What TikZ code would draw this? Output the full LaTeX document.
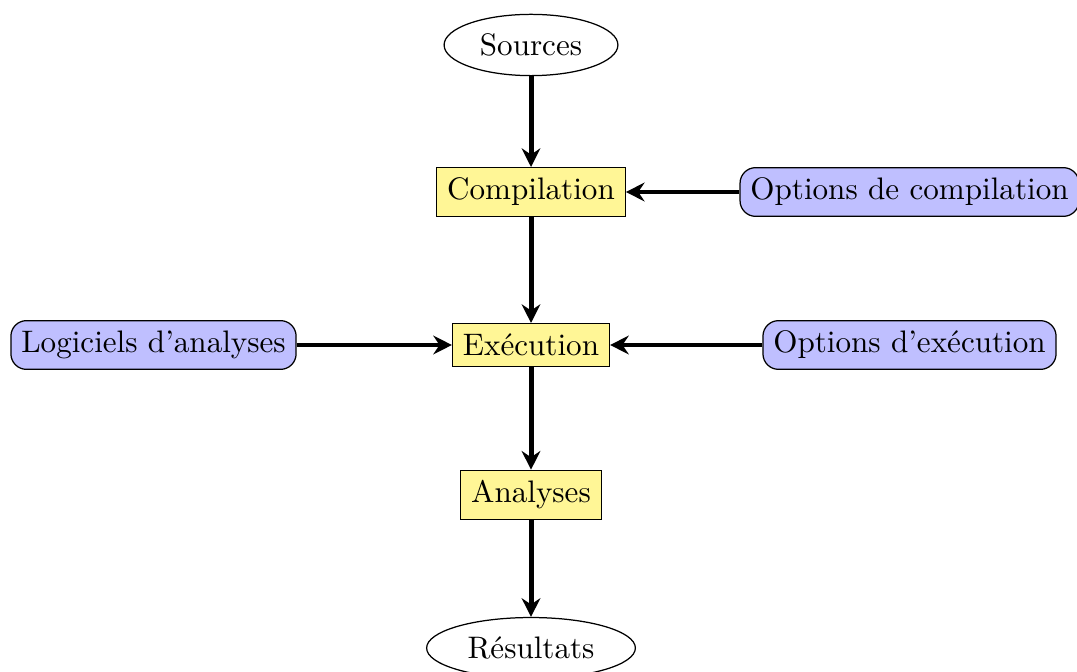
\documentclass[tikz,border=0pt]{standalone}
\usetikzlibrary{shapes.geometric,arrows.meta}
\definecolor{procfill}{RGB}{255,246,150}
\definecolor{optfill}{RGB}{191,191,255}
\begin{document}
\begin{tikzpicture}[x=0.3215pt,y=-0.3215pt,
  endpoint/.style={ellipse,draw,fill=white,inner sep=3.33pt},
  procbox/.style={rectangle,draw,fill=procfill},
  optbox/.style={rectangle,rounded corners=5pt,draw,fill=optfill},
  flow/.style={ultra thick,-{Stealth[length=6pt,width=6pt,inset=2pt]}}]
\useasboundingbox (0,0) rectangle (1077,671);
\node[endpoint] (src) at (531,45) {Sources};
\node[procbox] (comp) at (531,192) {Compilation};
\node[optbox] (ocomp) at (909.5,192) {Options de compilation};
\node[procbox] (exec) at (531,345) {Exécution};
\node[optbox] (log) at (153.5,345) {Logiciels d'analyses};
\node[optbox] (oexec) at (909.5,345) {Options d'exécution};
\node[procbox] (ana) at (531,495) {Analyses};
\node[endpoint] (res) at (531,648) {Résultats};
\draw[flow] (src) -- (comp);
\draw[flow] (ocomp) -- (comp);
\draw[flow] (comp) -- (exec);
\draw[flow] (log) -- (exec);
\draw[flow] (oexec) -- (exec);
\draw[flow] (exec) -- (ana);
\draw[flow] (ana) -- (res);
\end{tikzpicture}
\end{document}
